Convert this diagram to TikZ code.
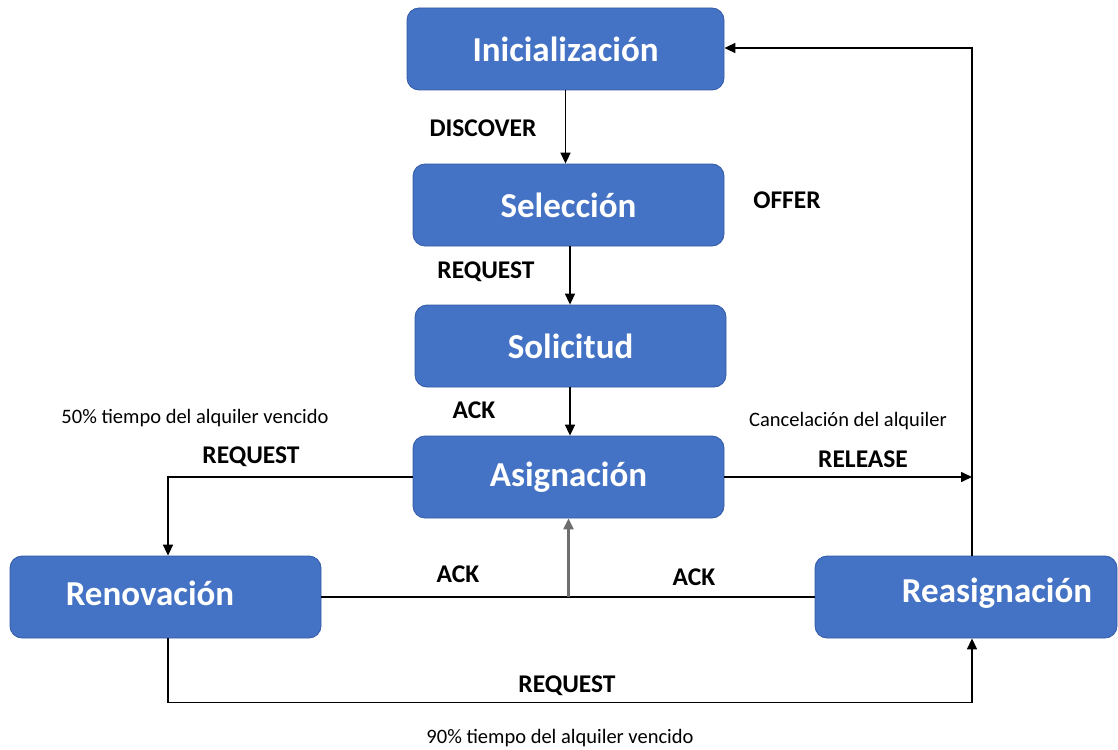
\documentclass[tikz,border=0pt]{standalone}
\usepackage{fontspec}
\setmainfont{Carlito}
\usetikzlibrary{arrows.meta}
\definecolor{boxblue}{RGB}{68,114,196}
\definecolor{boxedge}{RGB}{52,90,165}
\definecolor{mergegray}{RGB}{110,110,110}
\begin{document}
\begin{tikzpicture}[x=1pt,y=-1pt,
  state/.style={draw=boxedge, line width=0.8pt, fill=boxblue, rounded corners=12pt,
    text=white, font=\fontsize{35}{40}\selectfont\bfseries,
    minimum height=82pt, minimum width=311pt, inner sep=0pt},
  statetext/.style={text=white, font=\fontsize{35}{40}\selectfont\bfseries, inner sep=0pt},
  lbl/.style={font=\fontsize{25.5}{30}\selectfont\bfseries, inner sep=0pt},
  note/.style={font=\fontsize{20.5}{24}\selectfont, inner sep=0pt},
  link/.style={line width=1.6pt},
  flow/.style={line width=1.6pt, -{Triangle[length=11pt,width=10pt]}}]
\useasboundingbox (0,0) rectangle (1118,749);

% states
\node[state, minimum width=317pt] (ini) at (565.5,49) {Inicialización};
\node[state] (sel) at (568.5,205) {Selección};
\node[state] (sol) at (570.5,346) {Solicitud};
\node[state] (asg) at (568.5,477) {Asignación};
\node[state] (ren) at (165.5,597) {};
\node[statetext] (rent) at (150,593) {Renovación};
\node[state, minimum width=302pt] (rea) at (966,597) {};
\node[statetext] (reat) at (997,593) {Reasignación};

% helper coordinates for the vertical runs
\coordinate (cx) at (570,0);
\coordinate (lx) at (168,0);
\coordinate (rx) at (972,0);
\coordinate (top) at (972,48);

% main sequence
\draw[flow] (ini.south) -- (ini.south |- sel.north);
\draw[flow] (sel.south -| cx) -- (sol.north -| cx);
\draw[flow] (sol.south -| cx) -- (asg.north -| cx);

% release and return to initialisation
\draw[flow] (asg.east) -- (asg.east -| rx);
\draw[flow] (rea.north -| rx) -- (top) -- (ini.east |- top);

% renewal branch
\draw[flow] (asg.west) -| (ren.north -| lx);
\draw[link] (ren.east) -- (rea.west);
\draw[line width=2.2pt, mergegray, -{Triangle[length=11pt,width=10pt]}] (asg.south |- ren.east) -- (asg.south);
\draw[flow] (ren.south -| lx) -- ++(0,64) -| (rea.south -| rx);

% labels
\node[lbl] at (483,128) {DISCOVER};
\node[lbl] at (787,200) {OFFER};
\node[lbl] at (486,272) {REQUEST};
\node[lbl] at (474,410) {ACK};
\node[note] at (195,418) {50\% tiempo del alquiler vencido};
\node[lbl] at (251,457) {REQUEST};
\node[note] at (848,421) {Cancelación del alquiler};
\node[lbl] at (863,459) {RELEASE};
\node[lbl] at (458,574) {ACK};
\node[lbl] at (694,577) {ACK};
\node[lbl] at (567,686) {REQUEST};
\node[note] at (560,738) {90\% tiempo del alquiler vencido};
\end{tikzpicture}
\end{document}
